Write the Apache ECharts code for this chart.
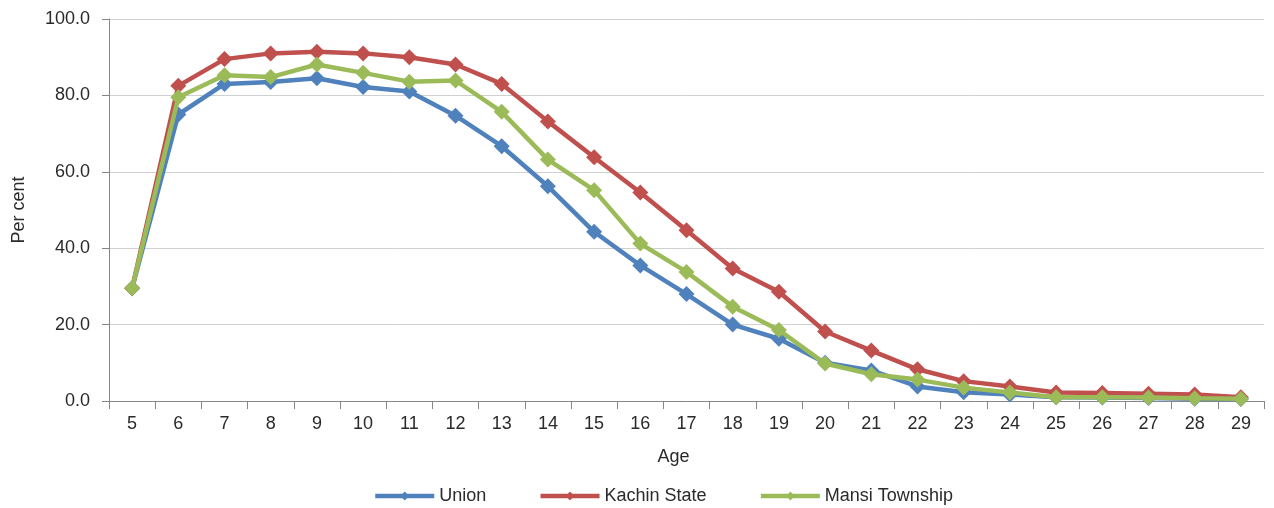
<!DOCTYPE html>
<html>
<head>
<meta charset="utf-8">
<script src="https://cdn.jsdelivr.net/npm/echarts@6/dist/echarts.min.js"></script>
<style>
  html, body { margin: 0; padding: 0; background: #fff; }
  #chart { width: 1274px; height: 508px; }
</style>
</head>
<body>
<div id="chart"></div>
<script>
const ages = ["5", "6", "7", "8", "9", "10", "11", "12", "13", "14", "15", "16", "17",
  "18", "19", "20", "21", "22", "23", "24", "25", "26", "27", "28", "29"];
const union = [29.5, 75.0, 83.0, 83.5, 84.5, 82.2, 81.0, 74.7, 66.7, 56.2, 44.3, 35.5, 28.0,
  20.0, 16.3, 10.0, 8.0, 3.8, 2.3, 1.7, 1.0, 0.9, 0.8, 0.6, 0.5];
const kachin = [29.5, 82.5, 89.5, 91.0, 91.4, 91.0, 90.0, 88.1, 83.0, 73.2, 63.8, 54.6, 44.7,
  34.7, 28.6, 18.2, 13.2, 8.3, 5.2, 3.8, 2.2, 2.1, 1.9, 1.7, 1.0];
const mansi = [29.5, 79.5, 85.3, 84.8, 88.1, 85.9, 83.6, 83.9, 75.7, 63.2, 55.2, 41.2, 33.8,
  24.7, 18.6, 9.8, 7.0, 5.6, 3.5, 2.2, 1.0, 1.0, 0.9, 0.7, 0.6];
const yTicks = [0, 20, 40, 60, 80, 100];

const seriesNames = ["Union", "Kachin State", "Mansi Township"];
const colors = ["#4F81BD", "#C0504D", "#9BBB59"]; // excel 2007 palette
const values = [union, kachin, mansi];

const font = "Liberation Sans, Arial, sans-serif";
const textColor = "#2a2a2a";
const chart = echarts.init(document.getElementById("chart"));

chart.setOption({
  animation: false,
  textStyle: { fontFamily: font },
  grid: { left: 109, right: 10, top: 19, bottom: 107, containLabel: false },
  legend: {
    data: seriesNames,
    left: 368,
    top: 482,
    itemWidth: 59,
    itemHeight: 11,
    itemGap: 52,
    lineStyle: { width: 4.5 },
    textStyle: { fontSize: 18, color: textColor, fontFamily: font }
  },
  xAxis: {
    type: "category",
    data: ages,
    boundaryGap: true,
    name: "Age",
    nameLocation: "middle",
    nameGap: 47,
    nameTextStyle: { fontSize: 18, color: textColor, padding: [0, 26, 0, 0] },
    axisLine: { show: true, lineStyle: { color: "#868686", width: 1 } },
    axisTick: { show: true, length: 8, lineStyle: { color: "#868686" } },
    axisLabel: { margin: 14, fontSize: 18, color: textColor, interval: 0 },
    splitLine: { show: false }
  },
  yAxis: {
    type: "value",
    min: yTicks[0],
    max: yTicks[yTicks.length - 1],
    interval: 20,
    name: "Per cent",
    nameLocation: "middle",
    nameGap: 81,
    nameTextStyle: { fontSize: 18, color: textColor },
    axisLine: { show: true, lineStyle: { color: "#868686", width: 1 } },
    axisTick: { show: true, length: 7, lineStyle: { color: "#868686" } },
    axisLabel: {
      margin: 19,
      fontSize: 18,
      color: textColor,
      formatter: (v) => v.toFixed(1)
    },
    splitLine: { show: true, lineStyle: { color: "#D0D0D0", width: 1 } }
  },
  series: seriesNames.map((name, i) => ({
    name,
    type: "line",
    data: values[i],
    symbol: "diamond",
    symbolSize: 16,
    showAllSymbol: true,
    lineStyle: { color: colors[i], width: 4.5 },
    itemStyle: { color: colors[i] },
    z: 2 + i
  }))
});
</script>
</body>
</html>
